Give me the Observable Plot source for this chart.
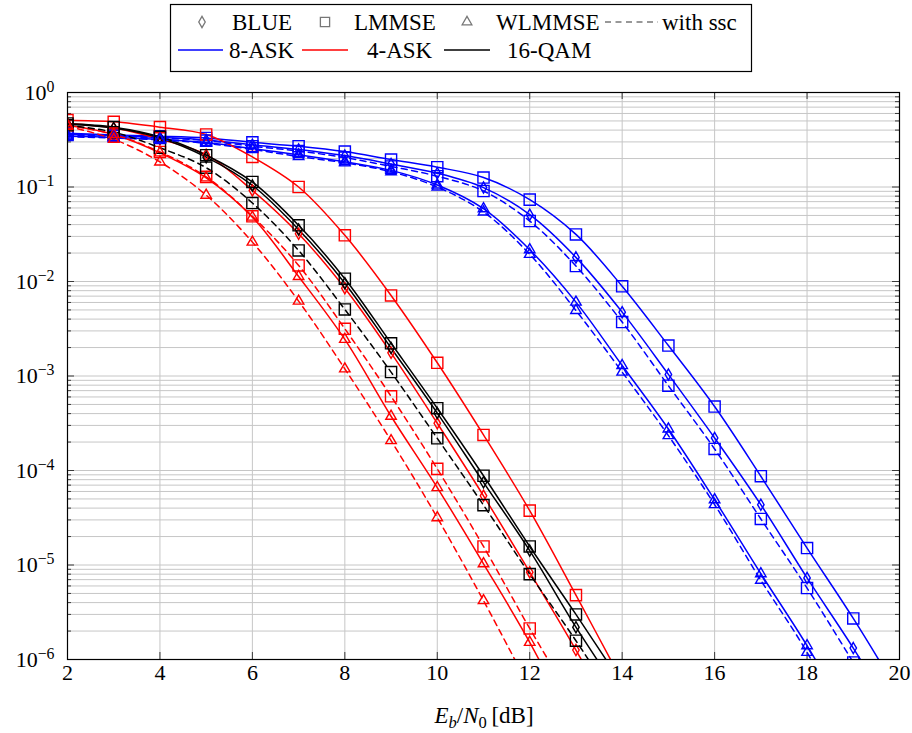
<!DOCTYPE html>
<html>
<head>
<meta charset="utf-8">
<script src="https://cdn.jsdelivr.net/npm/d3@7"></script>
<script src="https://cdn.jsdelivr.net/npm/@observablehq/plot@0.6"></script>
<style>
  html, body { margin: 0; padding: 0; background: #fff; }
  #fig { width: 912px; font-family: "Liberation Serif", serif; }
  #fig svg { display: block; }
</style>
</head>
<body>
<div id="fig"></div>
<script>
// Eb/N0 grid in dB
const snr = [2, 3, 4, 5, 6, 7, 8, 9, 10, 11, 12, 13, 14, 15, 16, 17, 18, 19, 20];

// Error rate, 8-ASK
const ask8Lmmse       = [0.37, 0.355, 0.345, 0.33, 0.297, 0.27, 0.237, 0.195, 0.162, 0.126, 0.0735, 0.0315, 0.0089, 0.0021, 4.75e-4, 8.7e-5, 1.51e-5, 2.72e-6, 4.3e-7];
const ask8Blue        = [0.36, 0.35, 0.335, 0.315, 0.28, 0.25, 0.215, 0.175, 0.14, 0.0986, 0.051, 0.018, 0.00474, 1.04e-3, 2.21e-4, 4.35e-5, 7.3e-6, 1.32e-6, 2.1e-7];
const ask8LmmseSsc    = [0.355, 0.345, 0.33, 0.31, 0.27, 0.24, 0.205, 0.165, 0.13, 0.0907, 0.0436, 0.01456, 0.00372, 7.9e-4, 1.69e-4, 3.07e-5, 5.7e-6, 9.3e-7];
const ask8Wlmmse      = [0.345, 0.335, 0.32, 0.295, 0.255, 0.22, 0.185, 0.15, 0.105, 0.059, 0.0217, 0.00605, 0.00129, 2.75e-4, 4.9e-5, 8.1e-6, 1.4e-6, 2.0e-7];
const ask8WlmmseSsc   = [0.34, 0.33, 0.315, 0.29, 0.25, 0.21, 0.18, 0.145, 0.1, 0.0545, 0.0194, 0.00494, 0.0011, 2.34e-4, 4.36e-5, 6.9e-6, 1.19e-6, 1.4e-7];

// Error rate, 4-ASK
const ask4Lmmse       = [0.51, 0.49, 0.43, 0.36, 0.208, 0.10, 0.0308, 0.00712, 0.00138, 2.38e-4, 3.76e-5, 4.8e-6, 5.9e-7];
const ask4Blue        = [0.47, 0.42, 0.32, 0.22, 0.092, 0.032, 0.0085, 0.00176, 3.16e-4, 5.4e-5, 8.4e-6, 1.26e-6, 1.6e-7];
const ask4LmmseSsc    = [0.45, 0.36, 0.235, 0.128, 0.049, 0.0148, 0.00316, 6.1e-4, 1.04e-4, 1.57e-5, 2.13e-6, 3.2e-7];
const ask4Wlmmse      = [0.45, 0.36, 0.23, 0.125, 0.048, 0.0113, 0.00244, 3.75e-4, 6.6e-5, 1.03e-5, 1.52e-6, 1.7e-7];
const ask4WlmmseSsc   = [0.44, 0.32, 0.184, 0.082, 0.0261, 0.0062, 0.00119, 2.07e-4, 3.17e-5, 4.2e-6, 5e-7];

// Error rate, 16-QAM
const qam16Lmmse      = [0.47, 0.43, 0.34, 0.217, 0.113, 0.0393, 0.0107, 0.00222, 4.56e-4, 8.8e-5, 1.57e-5, 3.0e-6, 5.5e-7];
const qam16Blue       = [0.46, 0.42, 0.33, 0.207, 0.104, 0.0355, 0.0096, 0.00198, 4.05e-4, 7.5e-5, 1.42e-5, 2.2e-6, 4.0e-7];
const qam16LmmseSsc   = [0.45, 0.38, 0.26, 0.16, 0.0677, 0.0213, 0.00506, 0.0011, 2.19e-4, 4.3e-5, 8.0e-6, 1.58e-6, 2.8e-7];

const modulations = ["8-ASK", "4-ASK", "16-QAM"];
const modColors = ["#0000ff", "#ff0000", "#000000"];
const estimators = ["BLUE", "LMMSE", "WLMMSE"];
const xTicks = [2, 4, 6, 8, 10, 12, 14, 16, 18, 20];
const yTicks = [1e-6, 1e-5, 1e-4, 1e-3, 1e-2, 1e-1, 1];

const curves = [
  {mod: "8-ASK", est: "LMMSE", ssc: false, values: ask8Lmmse},
  {mod: "8-ASK", est: "BLUE", ssc: false, values: ask8Blue},
  {mod: "8-ASK", est: "LMMSE", ssc: true, values: ask8LmmseSsc},
  {mod: "8-ASK", est: "WLMMSE", ssc: false, values: ask8Wlmmse},
  {mod: "8-ASK", est: "WLMMSE", ssc: true, values: ask8WlmmseSsc},
  {mod: "4-ASK", est: "LMMSE", ssc: false, values: ask4Lmmse},
  {mod: "4-ASK", est: "BLUE", ssc: false, values: ask4Blue},
  {mod: "4-ASK", est: "LMMSE", ssc: true, values: ask4LmmseSsc},
  {mod: "4-ASK", est: "WLMMSE", ssc: false, values: ask4Wlmmse},
  {mod: "4-ASK", est: "WLMMSE", ssc: true, values: ask4WlmmseSsc},
  {mod: "16-QAM", est: "LMMSE", ssc: false, values: qam16Lmmse},
  {mod: "16-QAM", est: "BLUE", ssc: false, values: qam16Blue},
  {mod: "16-QAM", est: "LMMSE", ssc: true, values: qam16LmmseSsc}
];

const rows = curves.flatMap((c, i) =>
  c.values.map((v, j) => ({id: i, mod: c.mod, est: c.est, ssc: c.ssc, snr: snr[j], ser: v}))
);

// minor decades 2..9 x 10^e
const minorTicks = d3.range(-6, 0).flatMap(e => d3.range(2, 10).map(m => m * Math.pow(10, e)));

const W = 912, H = 653;
const mL = 67, mR = 13, mT = 12, mB = 74;
const plotW = W - mL - mR, plotH = H - mT - mB;
const gridColor = "#c6c6c6";
const tickColor = "#3a3a3a";
const fontSize = 22;

const markers = {
  BLUE:   {symbol: "diamond", r: 3.4},
  LMMSE:  {symbol: "square", r: 6.3},
  WLMMSE: {symbol: "triangle", r: 3.9}
};

const lineOpts = ssc => ({
  x: "snr", y: "ser", z: "id", stroke: "mod",
  strokeWidth: 1.5, curve: "catmull-rom", clip: true,
  strokeDasharray: ssc ? "6,4.5" : null
});

const chart = Plot.plot({
  width: W, height: H,
  marginLeft: mL, marginRight: mR, marginTop: mT, marginBottom: mB,
  style: {fontFamily: '"Liberation Serif", serif', fontSize: fontSize + "px", background: "white", color: "black", overflow: "visible"},
  x: {domain: [2, 20], label: null},
  y: {type: "log", domain: [1e-6, 1], label: null},
  color: {domain: modulations, range: modColors},
  marks: [
    Plot.ruleY(minorTicks, {y: d => d, stroke: gridColor, strokeWidth: 1}),
    Plot.ruleY(yTicks, {y: d => d, stroke: gridColor, strokeWidth: 1}),
    Plot.ruleX(xTicks, {x: d => d, stroke: gridColor, strokeWidth: 1}),
    // ticks drawn inward on all four sides
    Plot.tickY(yTicks, {y: d => d, insetRight: plotW - 7, stroke: tickColor}),
    Plot.tickY(yTicks, {y: d => d, insetLeft: plotW - 7, stroke: tickColor}),
    Plot.tickY(minorTicks, {y: d => d, insetRight: plotW - 4, stroke: tickColor}),
    Plot.tickY(minorTicks, {y: d => d, insetLeft: plotW - 4, stroke: tickColor}),
    Plot.tickX(xTicks, {x: d => d, insetTop: plotH - 7, stroke: tickColor}),
    Plot.tickX(xTicks, {x: d => d, insetBottom: plotH - 7, stroke: tickColor}),
    Plot.axisX({ticks: xTicks, tickSize: 0, tickPadding: 5, fontSize, label: null}),
    Plot.axisY({ticks: yTicks, tickSize: 0, tickPadding: 13, fontSize, label: null,
      tickFormat: d => String(Math.round(Math.log10(d)))}),
    Plot.line(rows.filter(d => !d.ssc), lineOpts(false)),
    Plot.line(rows.filter(d => d.ssc), lineOpts(true)),
    ...estimators.map(e => Plot.dot(rows.filter(d => d.est === e), {
      x: "snr", y: "ser", stroke: "mod", fill: "none", strokeWidth: 1.4,
      symbol: markers[e].symbol, r: markers[e].r, clip: true
    })),
    Plot.frame({stroke: "black", strokeWidth: 1.2})
  ]
});

// power-of-ten tick labels with raised exponents
d3.select(chart).selectAll('g[aria-label="y-axis tick label"] text').each(function () {
  const t = d3.select(this);
  const e = t.text();
  t.text(null);
  t.append("tspan").text("10");
  t.append("tspan").attr("dy", "-0.48em").attr("font-size", "0.72em").text(e.replace("-", "\u2212"));
});

// x-axis title: Eb/N0 [dB]
const xt = d3.select(chart).append("text")
  .attr("x", mL + plotW / 2 + 1).attr("y", H - 10)
  .attr("text-anchor", "middle").attr("font-size", 23);
xt.append("tspan").attr("font-style", "italic").text("E");
xt.append("tspan").attr("font-style", "italic").attr("font-size", "0.72em").attr("dy", "0.3em").text("b");
xt.append("tspan").attr("dy", "-0.22em").text("/");
xt.append("tspan").attr("font-style", "italic").text("N");
xt.append("tspan").attr("font-size", "0.72em").attr("dy", "0.3em").text("0");
xt.append("tspan").attr("dy", "-0.22em").text("\u2009[dB]");

// legend box above the axes
const legend = d3.create("svg").attr("width", W).attr("height", 80)
  .attr("font-family", '"Liberation Serif", serif').attr("font-size", 23);
legend.append("rect").attr("x", 170.5).attr("y", 4.5).attr("width", 581).attr("height", 67)
  .attr("fill", "white").attr("stroke", "black").attr("stroke-width", 1.2);
const legendGray = "#777";
const symPath = (type, r) => d3.symbol(type, r * r * Math.PI)();
const row1 = 22, row2 = 50;
const symbolEntries = [
  {type: d3.symbolDiamond, r: 3.4, cx: 202, label: "BLUE", tx: 232},
  {type: d3.symbolSquare, r: 5.2, cx: 325, label: "LMMSE", tx: 354},
  {type: d3.symbolTriangle, r: 3.6, cx: 467, label: "WLMMSE", tx: 496}
];
for (const s of symbolEntries) {
  legend.append("path").attr("d", symPath(s.type, s.r)).attr("transform", `translate(${s.cx},${row1})`)
    .attr("fill", "none").attr("stroke", legendGray).attr("stroke-width", 1.3);
  legend.append("text").attr("x", s.tx).attr("y", row1).attr("dy", "0.33em").text(s.label);
}
legend.append("line").attr("x1", 605).attr("x2", 658).attr("y1", row1).attr("y2", row1)
  .attr("stroke", legendGray).attr("stroke-width", 1.4).attr("stroke-dasharray", "6,4.5");
legend.append("text").attr("x", 662).attr("y", row1).attr("dy", "0.33em").text("with ssc");
const lineEntries = [
  {x1: 178, x2: 223, label: modulations[0], tx: 229, color: modColors[0]},
  {x1: 302, x2: 348, label: modulations[1], tx: 367, color: modColors[1]},
  {x1: 444, x2: 490, label: modulations[2], tx: 507, color: modColors[2]}
];
for (const l of lineEntries) {
  legend.append("line").attr("x1", l.x1).attr("x2", l.x2).attr("y1", row2).attr("y2", row2)
    .attr("stroke", l.color).attr("stroke-width", 1.5);
  legend.append("text").attr("x", l.tx).attr("y", row2).attr("dy", "0.33em").text(l.label);
}

const fig = document.getElementById("fig");
fig.appendChild(legend.node());
fig.appendChild(chart);
</script>
</body>
</html>
